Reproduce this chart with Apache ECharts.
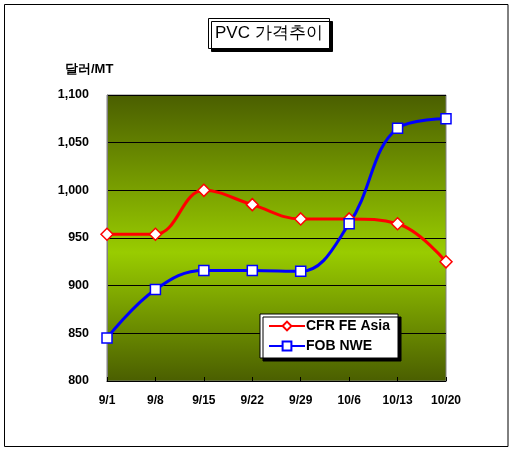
<!DOCTYPE html>
<html><head><meta charset="utf-8">
<script src="https://cdn.jsdelivr.net/npm/echarts@6/dist/echarts.min.js"></script>
<style>html,body{margin:0;padding:0;background:#fff}#c{width:514px;height:455px}</style>
</head><body><div id="c"></div>
<script>
const categories = ['9/1','9/8','9/15','9/22','9/29','10/6','10/13','10/20'];
const cfrFeAsia = [954, 954, 1000, 985, 970, 970, 965, 925];
const fobNwe = [845, 896, 916, 916, 915, 965, 1065, 1075];
const seriesNames = ['CFR FE Asia', 'FOB NWE'];
const titleText = 'PVC 가격추이';
const unitText = '달러/MT';

const chart = echarts.init(document.getElementById('c'), null, {renderer:'canvas'});
const font = 'Liberation Sans, Arial, sans-serif';
chart.setOption({
  animation: false,
  backgroundColor: '#fff',
  title: {
    text: titleText, left: 208, top: 18,
    padding: [7, 7, 7, 7],
    borderColor: '#000', borderWidth: 1, backgroundColor: '#fff',
    shadowColor: '#000', shadowOffsetX: 3, shadowOffsetY: 3, shadowBlur: 0,
    textStyle: {fontFamily: font, fontSize: 17, fontWeight: 'normal', color: '#000'}
  },
  graphic: [
    {type:'rect', shape:{x:4.5, y:4.5, width:503.5, height:442}, style:{fill:null, stroke:'#000', lineWidth:1}, z:-10},
    {type:'text', left: 65, top: 63, style:{text: unitText, font: 'bold 13px ' + font, fill:'#000'}}
  ],
  legend: {
    left: 260, top: 314, orient: 'vertical',
    itemWidth: 36, itemHeight: 11, itemGap: 6,
    padding: [5, 8, 5, 8],
    backgroundColor: '#fff', borderColor: '#000', borderWidth: 1,
    shadowColor: '#000', shadowOffsetX: 3, shadowOffsetY: 3, shadowBlur: 0,
    textStyle: {fontFamily: font, fontSize: 14, fontWeight: 'bold', color: '#000', padding:[0,0,0,-4]},
    data: seriesNames
  },
  grid: {
    left: 107, right: 68, top: 95, bottom: 74, show: true,
    borderColor: '#808080', borderWidth: 1,
    backgroundColor: new echarts.graphic.LinearGradient(0,0,0,1,[
      {offset:0, color:'#4a5e00'},
      {offset:0.55, color:'#99cc00'},
      {offset:1, color:'#4a5e00'}
    ])
  },
  xAxis: {
    type: 'category', data: categories, boundaryGap: false,
    axisLine: {lineStyle:{color:'#000', width:1}},
    axisTick: {inside: true, length: 4, lineStyle:{color:'#000'}},
    axisLabel: {margin: 14, fontFamily: font, fontSize: 12, fontWeight: 'bold', color: '#000'},
    splitLine: {show:false}
  },
  yAxis: {
    type: 'value', min: 800, max: 1100, interval: 50,
    axisLine: {show: true, lineStyle:{color:'#808080'}},
    axisTick: {show:false},
    axisLabel: {margin: 18, fontFamily: font, fontSize: 12.5, fontWeight: 'bold', color: '#000',
      formatter: v => v.toLocaleString('en-US')},
    splitLine: {lineStyle:{color:'#000', width:1}}
  },
  series: [
    {name: seriesNames[0], type:'line', data: cfrFeAsia, smooth: 0.4,
     symbol:'diamond', symbolSize: 12,
     lineStyle:{color:'#ff0000', width:3},
     itemStyle:{color:'#fff', borderColor:'#ff0000', borderWidth:1.5}},
    {name: seriesNames[1], type:'line', data: fobNwe, smooth: 0.4,
     symbol:'rect', symbolSize: 10,
     lineStyle:{color:'#0000ff', width:3},
     itemStyle:{color:'#fff', borderColor:'#0000ff', borderWidth:1.5}}
  ]
});
</script></body></html>
